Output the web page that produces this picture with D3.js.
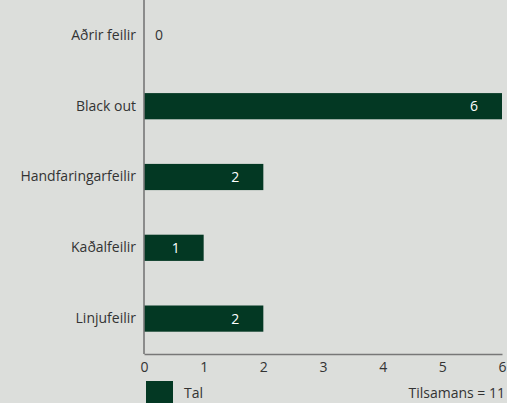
<!DOCTYPE html>
<html>
<head>
<meta charset="utf-8">
<script src="https://cdn.jsdelivr.net/npm/d3@7"></script>
<style>
  html, body { margin: 0; padding: 0; background: #dcdedb; }
  svg { display: block; font-family: "Open Sans", sans-serif; }
</style>
</head>
<body>
<div id="chart"></div>
<script>
const categories = ["Aðrir feilir", "Black out", "Handfaringarfeilir", "Kaðalfeilir", "Linjufeilir"];
const values = [0, 6, 2, 1, 2];
const xTicks = [0, 1, 2, 3, 4, 5, 6];
const seriesName = "Tal";
const totalLabel = "Tilsamans = " + d3.sum(values);

const width = 507, height = 403;
const margin = { top: 0, right: 5, bottom: 49, left: 144 };
const barColor = "#033823";
const textColor = "#333";
const font = "'Open Sans', sans-serif";
const fontSize = 14;

const svg = d3.select("#chart")
  .append("svg")
  .attr("width", width)
  .attr("height", height);

const x = d3.scaleLinear()
  .domain([0, 6])
  .range([margin.left, width - margin.right]);

const y = d3.scaleBand()
  .domain(categories)
  .range([margin.top, height - margin.bottom])
  .paddingInner(0.63)
  .paddingOuter(0.315);

// bars
svg.append("g")
  .selectAll("rect")
  .data(values)
  .join("rect")
  .attr("x", x(0))
  .attr("y", (d, i) => y(categories[i]))
  .attr("width", d => x(d) - x(0))
  .attr("height", y.bandwidth())
  .attr("fill", barColor);

// value labels
svg.append("g")
  .selectAll("text")
  .data(values)
  .join("text")
  .attr("x", d => d === 0 ? x(0) + 15 : x(d) - 28)
  .attr("y", (d, i) => y(categories[i]) + y.bandwidth() / 2)
  .attr("dy", "0.35em")
  .attr("text-anchor", "middle")
  .attr("font-size", fontSize)
  .attr("fill", d => d === 0 ? textColor : "#fff")
  .text(d => d);

// y axis
const yAxis = svg.append("g")
  .attr("transform", `translate(${margin.left},0)`)
  .call(d3.axisLeft(y).tickSize(0).tickPadding(8));
yAxis.select(".domain").attr("stroke", "#777").attr("stroke-width", 1.6)
  .attr("d", `M0,0V${height - margin.bottom}`);
yAxis.selectAll("text").attr("font-size", fontSize).attr("fill", textColor)
  .style("font-family", font);

// x axis
const xAxis = svg.append("g")
  .attr("transform", `translate(0,${height - margin.bottom})`)
  .call(d3.axisBottom(x).tickValues(xTicks).tickSize(0).tickPadding(8).tickFormat(d3.format("d")));
xAxis.select(".domain").attr("stroke", "#777").attr("stroke-width", 1.6);
xAxis.selectAll("text").attr("font-size", fontSize).attr("fill", textColor)
  .style("font-family", font);

// legend
const legend = svg.append("g");
legend.append("rect")
  .attr("x", 146).attr("y", 381)
  .attr("width", 27).attr("height", 30)
  .attr("fill", barColor);
legend.append("text")
  .attr("x", 184).attr("y", 393)
  .attr("dy", "0.35em")
  .attr("font-size", fontSize)
  .attr("fill", textColor)
  .text(seriesName);
legend.append("text")
  .attr("x", width - 2).attr("y", 393)
  .attr("dy", "0.35em")
  .attr("text-anchor", "end")
  .attr("font-size", fontSize)
  .attr("fill", textColor)
  .text(totalLabel);
</script>
</body>
</html>
